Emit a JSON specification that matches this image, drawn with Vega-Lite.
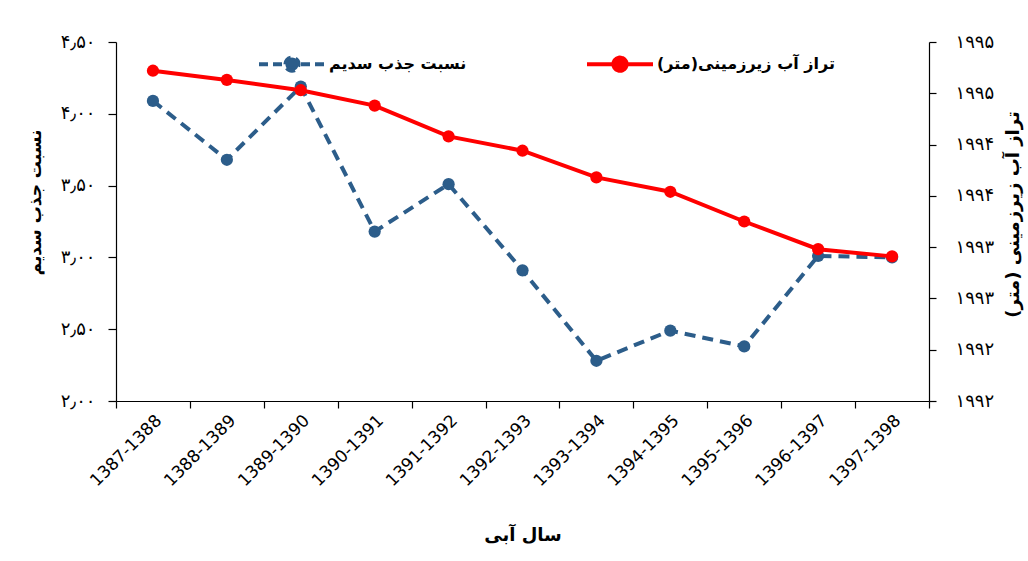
{
  "$schema": "https://vega.github.io/schema/vega-lite/v6.json",
  "autosize": "none",
  "width": 813,
  "height": 359,
  "padding": {"left": 116, "top": 42, "right": 99, "bottom": 160},
  "background": "white",
  "config": {
    "view": {"stroke": null},
    "axis": {"domainColor": "#000", "tickColor": "#000", "labelColor": "#000", "titleColor": "#000", "grid": false, "domainWidth": 1.2, "tickWidth": 1.2}
  },
  "data": {
    "values": [
      {"year": "1387-1388", "series": "نسبت جذب سدیم", "value": 4.09},
      {"year": "1388-1389", "series": "نسبت جذب سدیم", "value": 3.68},
      {"year": "1389-1390", "series": "نسبت جذب سدیم", "value": 4.19},
      {"year": "1390-1391", "series": "نسبت جذب سدیم", "value": 3.18},
      {"year": "1391-1392", "series": "نسبت جذب سدیم", "value": 3.51},
      {"year": "1392-1393", "series": "نسبت جذب سدیم", "value": 2.91},
      {"year": "1393-1394", "series": "نسبت جذب سدیم", "value": 2.28},
      {"year": "1394-1395", "series": "نسبت جذب سدیم", "value": 2.49},
      {"year": "1395-1396", "series": "نسبت جذب سدیم", "value": 2.38},
      {"year": "1396-1397", "series": "نسبت جذب سدیم", "value": 3.01},
      {"year": "1397-1398", "series": "نسبت جذب سدیم", "value": 3.0},
      {"year": "1387-1388", "series": "تراز آب زیرزمینی(متر)", "value": 1994.72},
      {"year": "1388-1389", "series": "تراز آب زیرزمینی(متر)", "value": 1994.63},
      {"year": "1389-1390", "series": "تراز آب زیرزمینی(متر)", "value": 1994.53},
      {"year": "1390-1391", "series": "تراز آب زیرزمینی(متر)", "value": 1994.38},
      {"year": "1391-1392", "series": "تراز آب زیرزمینی(متر)", "value": 1994.08},
      {"year": "1392-1393", "series": "تراز آب زیرزمینی(متر)", "value": 1993.94},
      {"year": "1393-1394", "series": "تراز آب زیرزمینی(متر)", "value": 1993.68},
      {"year": "1394-1395", "series": "تراز آب زیرزمینی(متر)", "value": 1993.54},
      {"year": "1395-1396", "series": "تراز آب زیرزمینی(متر)", "value": 1993.25},
      {"year": "1396-1397", "series": "تراز آب زیرزمینی(متر)", "value": 1992.98},
      {"year": "1397-1398", "series": "تراز آب زیرزمینی(متر)", "value": 1992.91}
    ]
  },
  "encoding": {
    "x": {
      "field": "year",
      "type": "nominal",
      "sort": null,
      "scale": {"type": "band", "paddingInner": 0, "paddingOuter": 0},
      "axis": {
        "title": "سال آبی",
        "titleFont": "DejaVu Sans",
        "titleFontSize": 18,
        "titleFontWeight": "bold",
        "titleY": 134,
        "titleBaseline": "middle",
        "labelAngle": -45,
        "labelFont": "DejaVu Sans",
        "labelFontSize": 17,
        "tickBand": "extent",
        "tickSize": 7,
        "labelPadding": 4
      }
    },
    "color": {
      "field": "series",
      "type": "nominal",
      "scale": {"domain": ["نسبت جذب سدیم", "تراز آب زیرزمینی(متر)"], "range": ["#2C5D8A", "#FF0000"]},
      "legend": {
        "title": null,
        "orient": "none",
        "legendX": 168,
        "legendY": 14,
        "direction": "horizontal",
        "columns": 2,
        "columnPadding": 112,
        "labelOffset": 29,
        "symbolSize": 144,
        "symbolType": "M-5.5,0H5.5M-1.1,0A1.1,1.1,0,1,1,1.1,0A1.1,1.1,0,1,1,-1.1,0Z",
        "symbolStrokeWidth": 4,
        "labelFont": "DejaVu Sans",
        "labelFontSize": 16,
        "labelFontWeight": "bold",
        "labelColor": "#000",
        "labelLimit": 400,
        "encode": {
          "symbols": {
            "update": {
              "fill": {"scale": "color", "field": "value"},
              "stroke": {"scale": "color", "field": "value"},
              "strokeWidth": {"value": 4},
              "strokeDash": {"signal": "datum.value == 'نسبت جذب سدیم' ? [9,5] : [1,0]"}
            }
          }
        }
      }
    }
  },
  "layer": [
    {
      "transform": [{"filter": "datum.series == 'نسبت جذب سدیم'"}],
      "mark": {"type": "line", "strokeWidth": 4, "strokeDash": [11, 7], "point": {"filled": true, "size": 150, "opacity": 1}},
      "encoding": {
        "y": {
          "field": "value",
          "type": "quantitative",
          "scale": {"domain": [2, 4.5], "nice": false, "zero": false},
          "axis": {
            "orient": "left",
            "values": [2, 2.5, 3, 3.5, 4, 4.5],
            "labelExpr": "replace(replace(replace(replace(replace(replace(format(datum.value,'.2f'),'.','٫'),regexp('0','g'),'۰'),regexp('2','g'),'۲'),regexp('3','g'),'۳'),regexp('4','g'),'۴'),regexp('5','g'),'۵')",
            "labelFont": "DejaVu Sans",
            "labelFontSize": 18,
            "labelPadding": 13,
            "tickSize": 8,
            "title": "نسبت جذب سدیم",
            "titleFont": "DejaVu Sans",
            "titleFontSize": 17,
            "titleFontWeight": "bold",
            "titleAngle": -90,
            "titleAlign": "center",
            "titleBaseline": "middle",
            "titleX": -81,
            "titleY": 160
          }
        }
      }
    },
    {
      "transform": [{"filter": "datum.series == 'تراز آب زیرزمینی(متر)'"}],
      "mark": {"type": "line", "strokeWidth": 4, "point": {"filled": true, "size": 150, "opacity": 1}},
      "encoding": {
        "y": {
          "field": "value",
          "type": "quantitative",
          "scale": {"domain": [1991.5, 1995], "nice": false, "zero": false},
          "axis": {
            "orient": "right",
            "values": [1991.5, 1992, 1992.5, 1993, 1993.5, 1994, 1994.5, 1995],
            "labelExpr": "replace(replace(replace(replace(replace(replace(format(round(datum.value),'d'),regexp('1','g'),'۱'),regexp('9','g'),'۹'),regexp('2','g'),'۲'),regexp('3','g'),'۳'),regexp('4','g'),'۴'),regexp('5','g'),'۵')",
            "labelFont": "DejaVu Sans",
            "labelFontSize": 18,
            "labelPadding": 19,
            "tickSize": 7,
            "title": "تراز آب زیرزمینی (متر)",
            "titleFont": "DejaVu Sans",
            "titleFontSize": 18,
            "titleFontWeight": "bold",
            "titleAngle": -90,
            "titleAlign": "center",
            "titleBaseline": "middle",
            "titleX": 84,
            "titleY": 172
          }
        }
      }
    }
  ],
  "resolve": {"scale": {"y": "independent"}}
}
